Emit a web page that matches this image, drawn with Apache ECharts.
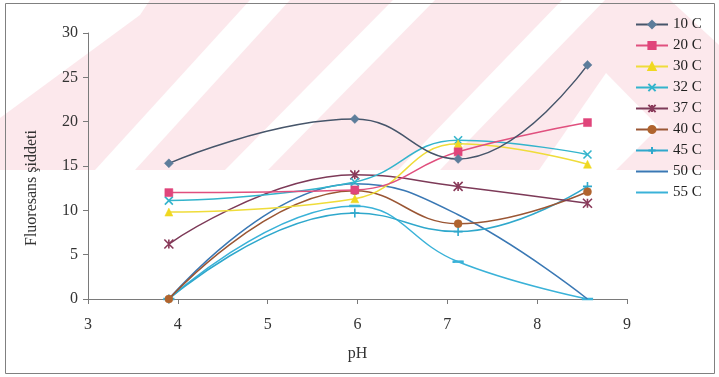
<!DOCTYPE html>
<html>
<head>
<meta charset="utf-8">
<script src="https://cdn.jsdelivr.net/npm/echarts@6/dist/echarts.min.js"></script>
<style>
html,body{margin:0;padding:0;background:#fff;}
#chart{width:719px;height:377px;}
</style>
</head>
<body>
<div id="chart"></div>
<script>
// ---- data ----
const phValues = [3.9, 5.97, 7.12, 8.56];
const seriesNames = ['10 C', '20 C', '30 C', '32 C', '37 C', '40 C', '45 C', '50 C', '55 C'];
const c10 = [15.3, 20.3, 15.8, 26.4];
const c20 = [12.0, 12.3, 16.6, 19.9];
const c30 = [9.8, 11.3, 17.5, 15.2];
const c32 = [11.1, 13.2, 17.9, 16.3];
const c37 = [6.2, 14.0, 12.7, 10.8];
const c40 = [0, 12.2, 8.5, 12.1];
const c45 = [0, 9.7, 7.6, 12.7];
const c50 = [0, 13.0, 9.5, 0];
const c55 = [0, 10.5, 4.2, 0];
const yTicks = [0, 5, 10, 15, 20, 25, 30];
const xTicks = [3, 4, 5, 6, 7, 8, 9];

const values = [c10, c20, c30, c32, c37, c40, c45, c50, c55];

const X_PATH = 'path://M0,0L10,10M10,0L0,10';
const STAR_PATH = 'path://M5,0L5,10M0,0L10,10M10,0L0,10';
const PLUS_PATH = 'path://M5,0L5,10M0,5L10,5';

const styles = [
  {line: '#46556a', marker: '#5d7d9b', symbol: 'diamond', size: 9},
  {line: '#e0507e', marker: '#e0457b', symbol: 'rect', size: 8},
  {line: '#efdc3a', marker: '#f0d820', symbol: 'triangle', size: 8},
  {line: '#33b4cc', marker: '#33b4cc', symbol: X_PATH, size: 8, stroke: true},
  {line: '#7d3a58', marker: '#8a3a5a', symbol: STAR_PATH, size: 9, stroke: true},
  {line: '#9a5634', marker: '#b0642e', symbol: 'circle', size: 8},
  {line: '#2fa8cc', marker: '#2fa8cc', symbol: PLUS_PATH, size: 9, stroke: true},
  {line: '#3a78b4', marker: '#3a78b4', symbol: 'none', size: 0},
  {line: '#3ab2d8', marker: '#3ab2d8', symbol: 'rect', size: [9, 2]}
];

const series = seriesNames.map((name, k) => {
  const st = styles[k];
  return {
    name: name,
    type: 'line',
    smooth: 0.45,
    data: phValues.map((x, i) => [x, values[k][i]]),
    symbol: st.symbol,
    symbolSize: st.size,
    showSymbol: st.symbol !== 'none',
    lineStyle: {color: st.line, width: 1.5},
    itemStyle: st.stroke
      ? {color: st.marker, borderColor: st.marker, borderWidth: 1.6}
      : {color: st.marker, borderColor: st.marker, borderWidth: 0.5},
    emphasis: {disabled: true},
    z: 10 - k
  };
});

const legendData = seriesNames.map((name, k) => {
  if (k >= 7) return {name: name, itemStyle: {opacity: 0}};
  return {name: name};
});

const PINK = '#fce8ec';
const watermark = [
  {type: 'rect', shape: {x: 0, y: 0, width: 719, height: 170}, style: {fill: PINK}},
  {type: 'polygon', shape: {points: [[0,0],[150,0],[140,15],[0,118]]}, style: {fill: '#fff'}},
  {type: 'polygon', shape: {points: [[95,170],[135,170],[290,0],[250,0]]}, style: {fill: '#fff'}},
  {type: 'polygon', shape: {points: [[225,170],[268,170],[435,0],[393,0]]}, style: {fill: '#fff'}},
  {type: 'polygon', shape: {points: [[398,170],[440,170],[605,0],[562,0]]}, style: {fill: '#fff'}},
  {type: 'polygon', shape: {points: [[539,170],[606,73],[659,127],[616,170]]}, style: {fill: '#fff'}},
  {type: 'polygon', shape: {points: [[670,0],[719,0],[719,45]]}, style: {fill: '#fff'}}
].map(g => Object.assign(g, {z: -10, silent: true}));

watermark.push({
  type: 'rect', z: 50, silent: true,
  shape: {x: 5.5, y: 3.5, width: 709, height: 370},
  style: {fill: 'none', stroke: '#808080', lineWidth: 1}
});

const FONT = 'Liberation Serif';
const chart = echarts.init(document.getElementById('chart'), null, {renderer: 'canvas'});
chart.setOption({
  animation: false,
  backgroundColor: '#ffffff',
  textStyle: {fontFamily: FONT},
  graphic: watermark,
  grid: {left: 88, right: 92, top: 33, bottom: 78},
  legend: {
    orient: 'vertical',
    left: 635,
    top: 17,
    padding: 0,
    itemWidth: 32,
    itemHeight: 9,
    itemGap: 6,
    data: legendData,
    textStyle: {fontFamily: FONT, fontSize: 15, color: '#222'}
  },
  xAxis: {
    type: 'value',
    min: xTicks[0],
    max: xTicks[xTicks.length - 1],
    interval: 1,
    name: 'pH',
    nameLocation: 'middle',
    nameGap: 47,
    nameTextStyle: {fontFamily: FONT, fontSize: 16, color: '#333'},
    axisLine: {show: true, lineStyle: {color: '#7a7a7a', width: 1}},
    axisTick: {show: true, length: 5, lineStyle: {color: '#7a7a7a'}},
    axisLabel: {fontFamily: FONT, fontSize: 16, color: '#333', margin: 18},
    splitLine: {show: false}
  },
  yAxis: {
    type: 'value',
    min: yTicks[0],
    max: yTicks[yTicks.length - 1],
    interval: 5,
    name: 'Fluoresans şiddeti',
    nameLocation: 'middle',
    nameRotate: 90,
    nameGap: 48,
    nameTextStyle: {fontFamily: FONT, fontSize: 16, color: '#333', padding: [0, 44, 0, 0]},
    axisLine: {show: true, lineStyle: {color: '#7a7a7a', width: 1}},
    axisTick: {show: true, length: 5, lineStyle: {color: '#7a7a7a'}},
    axisLabel: {fontFamily: FONT, fontSize: 16, color: '#333', margin: 10},
    splitLine: {show: false}
  },
  series: series
});
</script>
</body>
</html>
